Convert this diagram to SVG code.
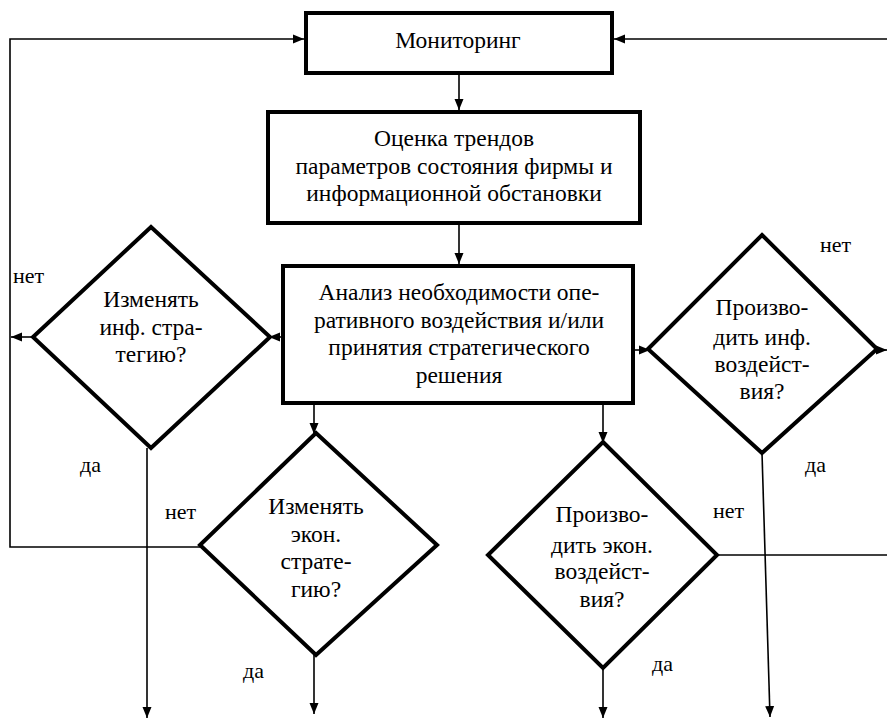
<svg xmlns="http://www.w3.org/2000/svg" width="887" height="719" viewBox="0 0 887 719">
<style>
text{font-family:'Liberation Serif','DejaVu Serif',serif;fill:#000}
.box{fill:#fff;stroke:#000;stroke-width:4}
.t{font-size:23.5px;text-anchor:middle}
.l{font-size:22px}
.c{fill:none;stroke:#000;stroke-width:1.6}
</style>
<defs>
<marker id="a" markerUnits="userSpaceOnUse" markerWidth="12" markerHeight="10" refX="11" refY="5" orient="auto">
<path d="M0,0.5 L11,5 L0,9.5 z" fill="#000"/>
</marker>
</defs>
<rect width="887" height="719" fill="#fff"/>
<g id="connectors">
<polyline class="c" points="200,547 10,547 10,39 304,39" marker-end="url(#a)"/>
<line class="c" x1="887" y1="39" x2="614" y2="39" marker-end="url(#a)"/>
<line class="c" x1="717" y1="555" x2="887" y2="555"/>
<line class="c" x1="459" y1="74" x2="459" y2="110" marker-end="url(#a)"/>
<line class="c" x1="459" y1="225" x2="459" y2="264" marker-end="url(#a)"/>
<line class="c" x1="281" y1="337" x2="269" y2="337" marker-end="url(#a)"/>
<line class="c" x1="33" y1="337" x2="11" y2="337" marker-end="url(#a)"/>
<line class="c" x1="147" y1="448" x2="147" y2="718" marker-end="url(#a)"/>
<line class="c" x1="314" y1="405" x2="314" y2="434" marker-end="url(#a)"/>
<line class="c" x1="314" y1="655" x2="314" y2="714" marker-end="url(#a)"/>
<line class="c" x1="603" y1="405" x2="603" y2="443" marker-end="url(#a)"/>
<line class="c" x1="603" y1="668" x2="603" y2="718" marker-end="url(#a)"/>
<line class="c" x1="635" y1="350" x2="650" y2="350" marker-end="url(#a)"/>
<line class="c" x1="877" y1="350" x2="887" y2="350" marker-end="url(#a)"/>
<line class="c" x1="762" y1="453" x2="770" y2="717" marker-end="url(#a)"/>
</g>
<g id="monitoring">
<rect class="box" x="306" y="13" width="306" height="60"/>
<text class="t" x="458" y="48">Мониторинг</text>
</g>
<g id="trends">
<rect class="box" x="268" y="112" width="372" height="111"/>
<text class="t" x="454" y="146">Оценка трендов</text>
<text class="t" x="454" y="174">параметров состояния фирмы и</text>
<text class="t" x="454" y="201">информационной обстановки</text>
</g>
<g id="analysis">
<rect class="box" x="283" y="266" width="350" height="137"/>
<text class="t" x="459" y="300">Анализ необходимости опе-</text>
<text class="t" x="459" y="328">ративного воздействия и/или</text>
<text class="t" x="459" y="355">принятия стратегического</text>
<text class="t" x="459" y="383">решения</text>
</g>
<g id="d1">
<polygon class="box" points="151,227 270,337 151,448 33,337"/>
<text class="t" x="151" y="307">Изменять</text>
<text class="t" x="151" y="335">инф. стра-</text>
<text class="t" x="151" y="362">тегию?</text>
</g>
<g id="d2">
<polygon class="box" points="316,433 437,545 316,655 200,545"/>
<text class="t" x="316" y="514">Изменять</text>
<text class="t" x="316" y="542">экон.</text>
<text class="t" x="316" y="569">страте-</text>
<text class="t" x="316" y="597">гию?</text>
</g>
<g id="d3">
<polygon class="box" points="603,442 717,555 603,668 488,555"/>
<text class="t" x="602" y="522">Произво-</text>
<text class="t" x="602" y="553">дить экон.</text>
<text class="t" x="602" y="579">воздейст-</text>
<text class="t" x="602" y="607">вия?</text>
</g>
<g id="d4">
<polygon class="box" points="762,235 877,349 762,453 648,349"/>
<text class="t" x="762" y="315">Произво-</text>
<text class="t" x="762" y="345">дить инф.</text>
<text class="t" x="762" y="372">воздейст-</text>
<text class="t" x="762" y="399">вия?</text>
</g>
<g id="labels">
<text class="l" x="13" y="283">нет</text>
<text class="l" x="80" y="472">да</text>
<text class="l" x="165" y="519">нет</text>
<text class="l" x="243" y="678">да</text>
<text class="l" x="713" y="518">нет</text>
<text class="l" x="652" y="671">да</text>
<text class="l" x="805" y="472">да</text>
<text class="l" x="820" y="252">нет</text>
</g>
</svg>
